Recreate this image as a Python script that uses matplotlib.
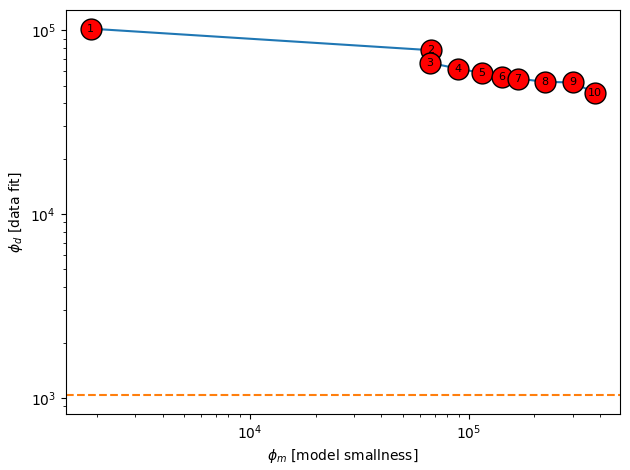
import numpy as np
import matplotlib
matplotlib.use("Agg")
import matplotlib.pyplot as plt

iterations = [1, 2, 3, 4, 5, 6, 7, 8, 9, 10]
phi_m = [1880, 67300, 66700, 89300, 115000, 142000, 168000, 223000, 299000, 377000]
phi_d = [102000, 77900, 66400, 61900, 58600, 55800, 54600, 52400, 52000, 45700]
phi_d_cible = 1033

fig, ax = plt.subplots(figsize=(6.3, 4.7), dpi=100)
fig.subplots_adjust(left=0.104, right=0.984, top=0.978, bottom=0.120)

ax.loglog(phi_m, phi_d, color="tab:blue")
ax.plot(phi_m, phi_d, "o", ms=15, mfc="red", mec="black", ls="none")
for i, (xm, yd) in enumerate(zip(phi_m, phi_d)):
    ax.text(xm, yd, str(iterations[i]), fontsize=8, ha="center", va="center")

ax.axhline(phi_d_cible, color="tab:orange", ls="--")

ax.set_xlabel(r"$\phi_m$ [model smallness]")
ax.set_ylabel(r"$\phi_d$ [data fit]")

fig.savefig("out.png")
